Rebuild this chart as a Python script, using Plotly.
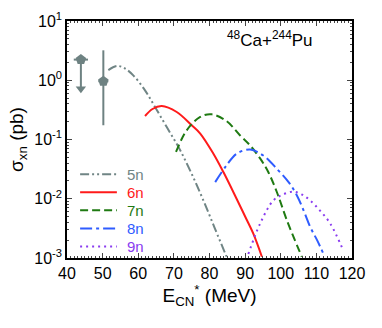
import plotly.graph_objects as go

# ---- data ----
E_5n = [51.6, 54.0, 56.0, 58.6, 61.9, 64.7, 68.0, 71.5, 75.0, 78.3, 81.5, 84.8]
s_5n = [1.48, 1.74, 1.62, 1.21, 0.676, 0.355, 0.162, 0.0708, 0.0263, 0.00933, 0.00316, 0.00105]

E_6n = [61.9, 64.0, 66.6, 70.8, 75.0, 77.4, 81.1, 83.9, 87.6, 90.0, 92.3, 94.7]
s_6n = [0.249, 0.327, 0.367, 0.291, 0.174, 0.126, 0.0575, 0.0282, 0.0100, 0.00501, 0.00257, 0.00105]

E_7n = [70.6, 73.6, 77.4, 80.6, 84.8, 88.6, 91.4, 94.2, 96.5, 98.9, 101.7, 105.9]
s_7n = [0.0617, 0.143, 0.240, 0.266, 0.204, 0.117, 0.0794, 0.0479, 0.0282, 0.0130, 0.00437, 0.00105]

E_8n = [81.6, 84.8, 87.6, 91.4, 95.1, 99.3, 102.2, 104.5, 106.4, 108.3, 110.2, 112.0]
s_8n = [0.0191, 0.0367, 0.0575, 0.0676, 0.0537, 0.0302, 0.0191, 0.0115, 0.00638, 0.00331, 0.00200, 0.00117]

E_9n = [90.9, 94.2, 97.9, 100.5, 103.5, 106.0, 108.3, 111.0, 113.9, 117.6]
s_9n = [0.00117, 0.00380, 0.00933, 0.0117, 0.0132, 0.0117, 0.00933, 0.00631, 0.00380, 0.00132]

# experimental points
E_exp = [43.9, 50.2]
s_exp = [2.23, 0.96]
dE_exp = [2.0, 1.4]
ds_up = [0.0, 2.24]
ds_dn = [0.0, 0.786]
# upper-limit arrow of first point
E_lim = [43.9, 43.9]
s_lim = [2.23, 0.72]

x_ticks = [40, 50, 60, 70, 80, 90, 100, 110, 120]
y_ticks = [1e-3, 1e-2, 1e-1, 1e0, 1e1]
y_ticktext = ["10<sup>-3</sup>", "10<sup>-2</sup>", "10<sup>-1</sup>", "10<sup>0</sup>", "10<sup>1</sup>"]

labels = ["5n", "6n", "7n", "8n", "9n"]
colors = ["#708585", "#ff1a1a", "#1f7a12", "#2f5cff", "#8a3cf0"]
dashes = ["9px,3px,2px,3px,2px,3px", "solid", "8px,4px", "12px,4px,3px,4px", "2px,4px"]

FONT = "Liberation Sans, Arial, Helvetica, sans-serif"
grey = "#6e8282"

fig = go.Figure()

curves = [(E_5n, s_5n), (E_6n, s_6n), (E_7n, s_7n), (E_8n, s_8n), (E_9n, s_9n)]
for (ex, sy), lab, col, dsh in zip(curves, labels, colors, dashes):
    fig.add_trace(go.Scatter(
        x=ex, y=sy, mode="lines", name=lab, showlegend=False,
        line=dict(color=col, width=2, dash=dsh, shape="spline", smoothing=1.0)))

fig.add_trace(go.Scatter(
    x=E_lim, y=s_lim, mode="lines", line=dict(color=grey, width=2), showlegend=False))
fig.add_trace(go.Scatter(
    x=[E_lim[-1]], y=[s_lim[-1]], mode="markers",
    marker=dict(symbol="triangle-down", size=9, color=grey), showlegend=False))
fig.add_trace(go.Scatter(
    x=E_exp, y=s_exp, mode="markers",
    marker=dict(symbol="pentagon", size=11, color=grey),
    error_x=dict(type="data", array=dE_exp, color=grey, thickness=2, width=0),
    error_y=dict(type="data", symmetric=False, array=ds_up, arrayminus=ds_dn, color=grey, thickness=2, width=0),
    showlegend=False))

# legend drawn as line samples + coloured labels (paper coordinates)
leg_x0, leg_x1, leg_tx = 0.046, 0.175, 0.205
leg_y = [0.353, 0.277, 0.201, 0.125, 0.049]
shapes = []
annotations = []
for lab, col, dsh, yy in zip(labels, colors, dashes, leg_y):
    shapes.append(dict(type="line", xref="paper", yref="paper", x0=leg_x0, x1=leg_x1, y0=yy, y1=yy,
                       line=dict(color=col, width=2, dash=dsh)))
    annotations.append(dict(x=leg_tx, y=yy, xref="paper", yref="paper", xanchor="left", yanchor="middle",
                            text=lab, showarrow=False, font=dict(size=15, color=col)))

annotations.append(dict(x=0.87, y=0.925, xref="paper", yref="paper", xanchor="right", yanchor="middle",
                        text="<sup>48</sup>Ca+<sup>244</sup>Pu", showarrow=False, font=dict(size=17)))

minor_y = [m * 10 ** d for d in range(-3, 1) for m in range(2, 10)]

fig.update_layout(
    width=382, height=328,
    margin=dict(l=67, r=30, t=21, b=70),
    paper_bgcolor="white", plot_bgcolor="white",
    font=dict(family=FONT, size=16, color="black"),
    showlegend=False,
    xaxis=dict(range=[40, 120], tickvals=x_ticks, ticks="inside", ticklen=5, tickwidth=1,
               showline=True, linecolor="black", linewidth=1.5, mirror="allticks", showgrid=False,
               zeroline=False, automargin=False,
               minor=dict(dtick=1, ticks="inside", ticklen=2.5, tickwidth=1, showgrid=False),
               title=dict(text="E<sub>CN</sub><sup>*</sup> (MeV)", standoff=8)),
    yaxis=dict(type="log", range=[-3, 1], tickvals=y_ticks, ticktext=y_ticktext, ticks="inside",
               ticklen=5, tickwidth=1, showline=True, linecolor="black", linewidth=1.5,
               mirror="allticks", showgrid=False, zeroline=False, automargin=False,
               minor=dict(tickvals=minor_y, ticks="inside", ticklen=2.5, tickwidth=1, showgrid=False),
               title=dict(text="σ<sub>xn</sub> (pb)", standoff=6)),
    shapes=shapes,
    annotations=annotations,
)

fig.write_html("out.html", config={"displayModeBar": False},
               post_script="document.body.style.margin='0';")
